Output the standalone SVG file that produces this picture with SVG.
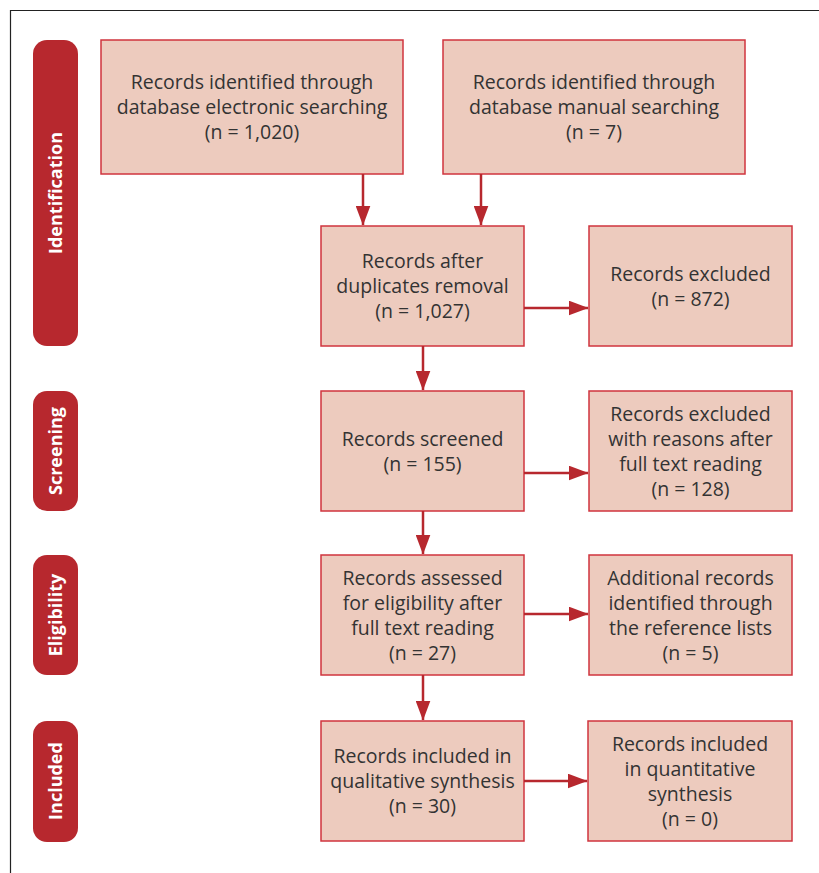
<svg xmlns="http://www.w3.org/2000/svg" width="819" height="873" viewBox="0 0 819 873">
<style>
.box{fill:#EDCBBE;stroke:#D0343E;stroke-width:1.5}
.pill{fill:#B7282E}
.t{font-family:"Open Sans","Liberation Sans",sans-serif;font-size:19.5px;fill:#333333;text-anchor:middle}
.lbl{font-family:"Open Sans","Liberation Sans",sans-serif;font-size:18px;font-weight:bold;fill:#FFFFFF;text-anchor:middle}
.c{stroke:#B7282E;stroke-width:2.5;fill:none}
</style>
<defs>
<marker id="ah" markerWidth="8" markerHeight="6" refX="7.8" refY="3" orient="auto" markerUnits="strokeWidth">
<path d="M0,0 L8,3 L0,6 Z" fill="#B7282E"/>
</marker>
</defs>
<rect width="819" height="873" fill="#FFFFFF"/>
<path d="M10.5,873 V10.5 H819" fill="none" stroke="#222222" stroke-width="1.2"/>
<g id="stage-identification"><rect class="pill" x="33" y="40" width="45" height="306" rx="14"/><text class="lbl" transform="translate(62,193) rotate(-90)">Identification</text></g>
<g id="stage-screening"><rect class="pill" x="33" y="391" width="45" height="120" rx="14"/><text class="lbl" transform="translate(62,451) rotate(-90)">Screening</text></g>
<g id="stage-eligibility"><rect class="pill" x="33" y="555" width="45" height="120" rx="14"/><text class="lbl" transform="translate(62,615) rotate(-90)">Eligibility</text></g>
<g id="stage-included"><rect class="pill" x="33" y="721" width="45" height="121" rx="14"/><text class="lbl" transform="translate(62,781) rotate(-90)">Included</text></g>
<g id="n-electronic"><rect class="box" x="101" y="40" width="302" height="134"/><text class="t" x="252" y="89">Records identified through</text><text class="t" x="252" y="114">database electronic searching</text><text class="t" x="252" y="139">(n = 1,020)</text></g>
<g id="n-manual"><rect class="box" x="443" y="40" width="302" height="134"/><text class="t" x="594" y="89">Records identified through</text><text class="t" x="594" y="114">database manual searching</text><text class="t" x="594" y="139">(n = 7)</text></g>
<g id="n-dedup"><rect class="box" x="321" y="226" width="203" height="120"/><text class="t" x="422.5" y="268">Records after</text><text class="t" x="422.5" y="293">duplicates removal</text><text class="t" x="422.5" y="318">(n = 1,027)</text></g>
<g id="n-excluded"><rect class="box" x="589" y="226" width="203" height="120"/><text class="t" x="690.5" y="280.5">Records excluded</text><text class="t" x="690.5" y="305.5">(n = 872)</text></g>
<g id="n-screened"><rect class="box" x="321" y="391" width="203" height="120"/><text class="t" x="422.5" y="446">Records screened</text><text class="t" x="422.5" y="471">(n = 155)</text></g>
<g id="n-excluded-reasons"><rect class="box" x="589" y="391" width="203" height="120"/><text class="t" x="690.5" y="420.5">Records excluded</text><text class="t" x="690.5" y="445.5">with reasons after</text><text class="t" x="690.5" y="470.5">full text reading</text><text class="t" x="690.5" y="495.5">(n = 128)</text></g>
<g id="n-assessed"><rect class="box" x="321" y="555" width="203" height="120"/><text class="t" x="422.5" y="584.5">Records assessed</text><text class="t" x="422.5" y="609.5">for eligibility after</text><text class="t" x="422.5" y="634.5">full text reading</text><text class="t" x="422.5" y="659.5">(n = 27)</text></g>
<g id="n-additional"><rect class="box" x="589" y="555" width="203" height="120"/><text class="t" x="690.5" y="584.5">Additional records</text><text class="t" x="690.5" y="609.5">identified through</text><text class="t" x="690.5" y="634.5">the reference lists</text><text class="t" x="690.5" y="659.5">(n = 5)</text></g>
<g id="n-qualitative"><rect class="box" x="321" y="721" width="203" height="120"/><text class="t" x="422.5" y="763">Records included in</text><text class="t" x="422.5" y="788">qualitative synthesis</text><text class="t" x="422.5" y="813">(n = 30)</text></g>
<g id="n-quantitative"><rect class="box" x="588" y="721" width="204" height="120"/><text class="t" x="690" y="750.5">Records included</text><text class="t" x="690" y="775.5">in quantitative</text><text class="t" x="690" y="800.5">synthesis</text><text class="t" x="690" y="825.5">(n = 0)</text></g>
<g id="connectors">
<line class="c" x1="363" y1="174" x2="363" y2="225" marker-end="url(#ah)"/>
<line class="c" x1="481" y1="174" x2="481" y2="225" marker-end="url(#ah)"/>
<line class="c" x1="524" y1="308" x2="588" y2="308" marker-end="url(#ah)"/>
<line class="c" x1="423" y1="346" x2="423" y2="390" marker-end="url(#ah)"/>
<line class="c" x1="524" y1="473" x2="588" y2="473" marker-end="url(#ah)"/>
<line class="c" x1="423" y1="511" x2="423" y2="554" marker-end="url(#ah)"/>
<line class="c" x1="524" y1="614" x2="588" y2="614" marker-end="url(#ah)"/>
<line class="c" x1="423" y1="675" x2="423" y2="720" marker-end="url(#ah)"/>
<line class="c" x1="524" y1="781" x2="587" y2="781" marker-end="url(#ah)"/>
</g>
</svg>
